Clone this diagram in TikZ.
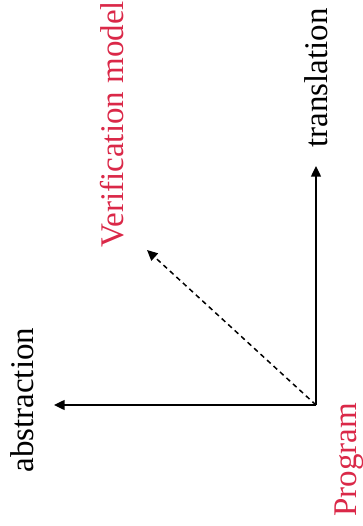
\documentclass[tikz,border=0pt]{standalone}
\usepackage{fontspec}
\setmainfont{Liberation Serif}
\usepackage{xcolor}
\usepackage{tikz}
\usetikzlibrary{arrows.meta}
\definecolor{vmred}{RGB}{218,40,72}
\tikzset{
  axarrow/.style={line width=0.85pt, draw=black, -{Triangle[length=6pt,width=5.6pt]}},
  axdash/.style={axarrow, dash pattern=on 2.8pt off 2.2pt},
  axlabel/.style={rotate=90, anchor=base west, inner sep=0pt, font=\fontsize{18.8}{22}\selectfont},
  redlabel/.style={axlabel, text=vmred},
}
\begin{document}
\begin{tikzpicture}[x=0.2mm,y=-0.2mm]
\useasboundingbox (0,0) rectangle (362,526);
\coordinate (orig) at (316.000,405.000);
\coordinate (trtip) at (316.000,166.000);
\coordinate (abtip) at (54.000,405.000);
\coordinate (vmtip) at (147.000,250.000);
\draw[axarrow] (orig) -- (trtip);
\draw[axarrow] (orig) -- (abtip);
\draw[axdash] (orig) -- (vmtip);
\node[redlabel] (prog) at (356.000,517.000) {Program};
\node[axlabel] (transl) at (327.000,148.000) {translation};
\node[redlabel] (vmodel) at (123.000,248.000) {Verification model};
\node[axlabel] (abstr) at (33.000,473.000) {abstraction};
\end{tikzpicture}
\end{document}
